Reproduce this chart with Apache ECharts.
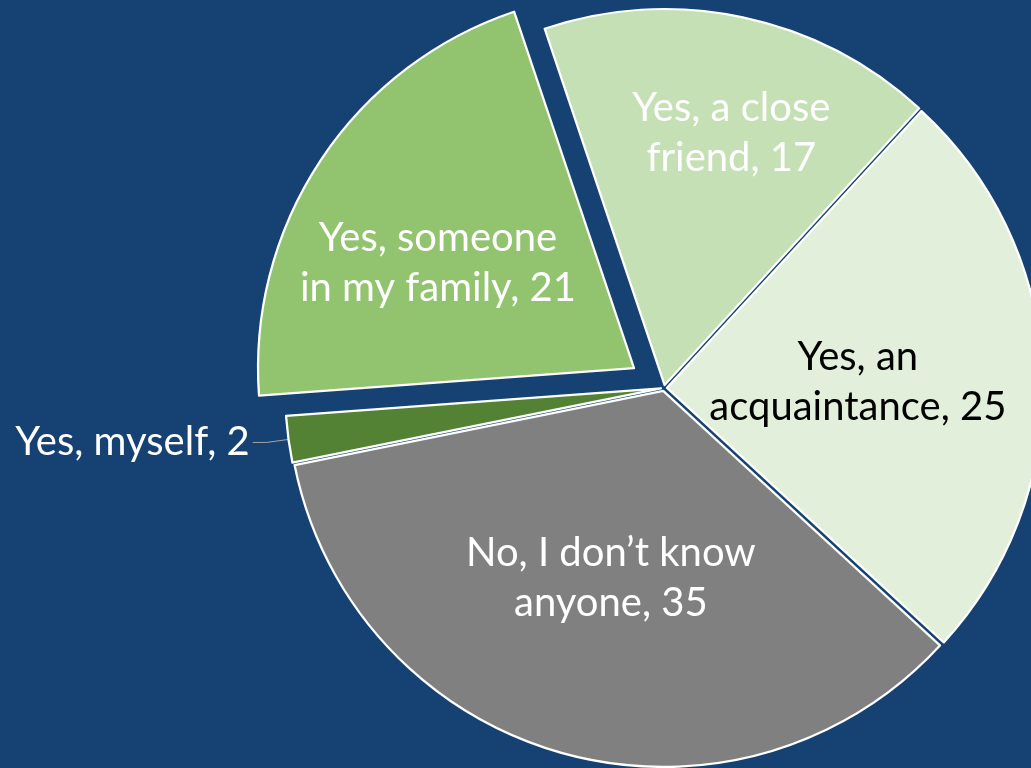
<!DOCTYPE html>
<html><head><meta charset="utf-8">
<script src="https://cdn.jsdelivr.net/npm/echarts@6/dist/echarts.min.js"></script>
<style>html,body{margin:0;padding:0;background:#154273;overflow:hidden}#chart{width:1031px;height:768px}</style>
</head><body><div id="chart"></div>
<script>
// ---- data ----
const categories = ['Yes, myself', 'Yes, someone\nin my family', 'Yes, a close\nfriend', 'Yes, an\nacquaintance', 'No, I don\u2019t know\nanyone'];
const values = [2, 21, 17, 25, 35];
const explodedIndex = 1;

// ---- styles ----
const sliceColors = ['#548235', '#92C46F', '#C5E0B4', '#E2EFDA', '#808080'];
const labelColors = ['#FFFFFF', '#FFFFFF', '#FFFFFF', '#000000', '#FFFFFF'];
const labelShift = [[0, 0], [-37, 1], [27, -65], [0, 2], [-1, 3]];

function buildData(isVisible) {
  return categories.map(function (name, i) {
    const vis = isVisible(i);
    return {
      name: name,
      value: values[i],
      selected: true,
      itemStyle: vis ? { color: sliceColors[i], borderColor: '#FFFFFF', borderWidth: 2.25 }
                     : { color: 'rgba(0,0,0,0)', borderWidth: 0 },
      label: vis ? { show: true, color: labelColors[i], position: i === 0 ? 'outside' : 'inside' }
                 : { show: false },
      labelLine: { show: vis && i === 0 }
    };
  });
}

function baseSeries(offset, data) {
  return {
    type: 'pie',
    center: [664, 388],
    radius: 376,
    startAngle: 191.4,
    clockwise: true,
    selectedMode: 'multiple',
    selectedOffset: offset,
    avoidLabelOverlap: false,
    silent: true,
    emphasis: { disabled: true },
    label: {
      formatter: '{b}, {c}',
      fontFamily: 'Lato',
      fontSize: 40,
      lineHeight: 50,
      textBorderWidth: 0,
      distanceToLabelLine: 3
    },
    labelLine: { length: 22, length2: 14, lineStyle: { color: '#A6A6A6', width: 1 } },
    labelLayout: function (p) {
      const s = labelShift[p.dataIndex];
      return { dx: s[0], dy: s[1] };
    },
    data: data
  };
}

const chart = echarts.init(document.getElementById('chart'), null, { renderer: 'canvas' });
chart.setOption({
  backgroundColor: '#154273',
  animation: false,
  series: [
    baseSeries(3, buildData(function (i) { return i !== explodedIndex; })),
    baseSeries(36, buildData(function (i) { return i === explodedIndex; }))
  ]
});
</script>
</body></html>
